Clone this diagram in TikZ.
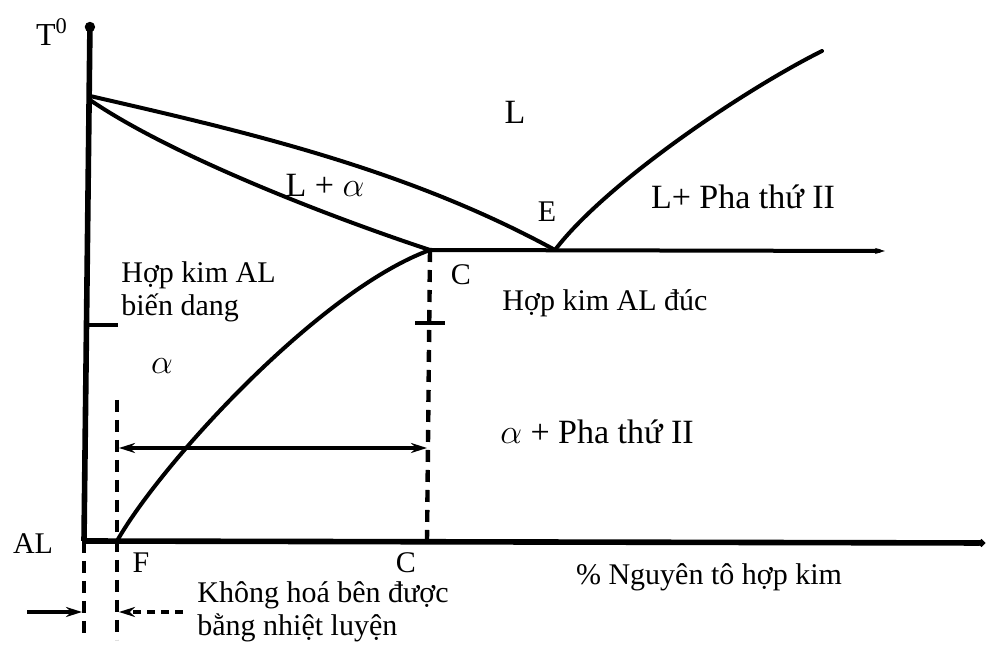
\documentclass[tikz,border=0pt]{standalone}
\usepackage{fontspec}
\setmainfont{Liberation Serif}
\usetikzlibrary{arrows.meta}

\begin{document}
\begin{tikzpicture}[x=0.5pt,y=-0.5pt]
    \tikzset{curve/.style={line width=2pt, line cap=round}};
    \tikzset{axis/.style={line width=2.8pt}};
    \tikzset{guide/.style={line width=2.2pt, dash pattern=on 6pt off 4pt}};
    \tikzset{big/.style={inner sep=0pt, font=\fontsize{17}{20}\selectfont}};
    \tikzset{small/.style={inner sep=0pt, font=\fontsize{15}{16.5}\selectfont}};
\useasboundingbox (0,0) rectangle (987,646);
%%
  \coordinate (O) at (84,541);
  \coordinate (Top) at (90,22);
  \coordinate (Xend) at (985,543);
  \coordinate (A) at (90,96);
  \coordinate (A2) at (90,100);
  \coordinate (E) at (555,250);
  \coordinate (C) at (430,250);
  \coordinate (F) at (117,541);
  \coordinate (Lend) at (822,51);
  \coordinate (Hend) at (885,251);
  \coordinate (Cb) at (427,541);
  \coordinate (Fa) at (117,400);
  \coordinate (Fb) at (117,640);
  \coordinate (Ob) at (84,640);
  \coordinate (t1) at (88,325);
  \coordinate (t2) at (118,325);
  \coordinate (t3) at (415,323);
  \coordinate (t4) at (445,323);
  \coordinate (m1) at (119,448);
  \coordinate (m2) at (427,448);
  \coordinate (b1) at (27,612);
  \coordinate (b2) at (82,612);
  \coordinate (b3) at (183,612);
  \coordinate (b4) at (119,612);

  % axes
  \draw [axis, -{Circle[length=5pt]}] (O) -- (Top);
  \draw [axis, -{Circle[length=3.5pt]}] (O) -- (Xend);

  % phase lines
  \draw [curve] (A) .. controls (242,131) and (405,168) .. (E);
  \draw [curve] (A2) .. controls (172,156) and (330,217) .. (C);
  \draw [curve] (E) .. controls (605,184) and (742,91) .. (Lend);
  \draw [curve, -{Stealth[length=5pt,width=3pt]}] (C) -- (Hend);
  \draw [curve] (C) .. controls (320,290) and (162,462) .. (F);

  % guides
  \draw [guide] (C) -- (Cb);
  \draw [guide] (Fa) -- (Fb);
  \draw [guide] (O) -- (Ob);
  \draw [line width=2.2pt] (t1) -- (t2);
  \draw [line width=2.2pt] (t3) -- (t4);
  \draw [line width=1.8pt, {Stealth[length=8pt,width=5pt]}-{Stealth[length=8pt,width=5pt]}] (m1) -- (m2);
  \draw [line width=1.8pt, -{Stealth[length=8pt,width=5pt]}] (b1) -- (b2);
  \draw [line width=1.6pt, dash pattern=on 4pt off 3pt, -{Stealth[length=8pt,width=5pt]}] (b3) -- (b4);

  % labels
  \node (lT) at (52,32) [small, font=\fontsize{16}{18}\selectfont] {T\textsuperscript{0}};
  \node (lL) at (515,112) [big] {L};
  \node (lLa) at (325,185) [big] {L + $\alpha$};
  \node (lE) at (547,212) [small] {E};
  \node (lLP) at (743,197) [big] {L+ Pha thứ II};
  \node (lC) at (461,275) [small] {C};
  \node (lduc) at (605,303) [small] {Hợp kim AL đúc};
  \node (lbd) at (121,292) [small, anchor=west, align=left] {Hợp kim AL\\biến dang};
  \node (la) at (162,366) [big] {$\alpha$};
  \node (laP) at (597,432) [big] {$\alpha$ + Pha thứ II};
  \node (lAL) at (33,544) [small] {AL};
  \node (lF) at (141,563) [small] {F};
  \node (lC2) at (406,563) [small] {C};
  \node (lpct) at (709,577) [small] {\% Nguyên tô hợp kim};
  \node (lkh) at (197,612) [small, anchor=west, align=left] {Không hoá bên được\\bằng nhiệt luyện};
  %
\end{tikzpicture}
\end{document}
